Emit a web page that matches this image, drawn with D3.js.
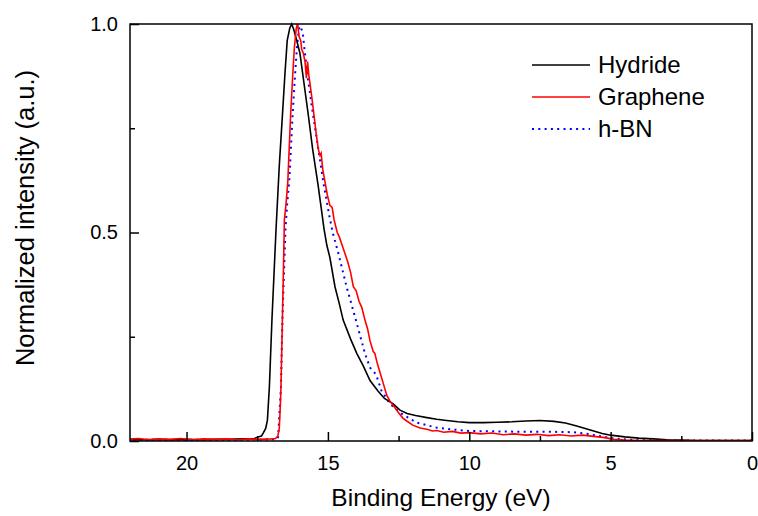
<!DOCTYPE html>
<html>
<head>
<meta charset="utf-8">
<script src="https://cdn.jsdelivr.net/npm/d3@7"></script>
<style>
  body { margin: 0; background: #fff; }
  text { font-family: "Liberation Sans", Arial, sans-serif; fill: #000; }
</style>
</head>
<body>
<script>
const width = 758;
const height = 516;
const margin = { top: 24, right: 6, bottom: 75, left: 130 };

// Data (binding energy in eV, normalized intensity)
const hydrideE = [22.1, 21.5, 21.0, 20.5, 20.0, 19.5, 19.0, 18.5, 18.0, 17.6, 17.45, 17.35, 17.28, 17.2, 17.14,
  17.07, 16.98, 16.84, 16.72, 16.61, 16.52, 16.44, 16.35, 16.28, 16.2, 16.1, 15.99, 15.85, 15.69, 15.54,
  15.44, 15.34, 15.24, 15.14, 15.04, 14.93, 14.75, 14.6, 14.46, 14.2, 13.98, 13.75, 13.51, 13.23, 13.0,
  12.69, 12.45, 12.2, 11.9, 11.5, 11.15, 10.8, 10.4, 10.0, 9.5, 9.0, 8.5, 8.0, 7.5, 7.0, 6.6, 6.2, 5.9,
  5.6, 5.3, 5.0, 4.5, 4.0, 3.5, 3.0, 2.5, 2.0, 1.0, 0.0];
const hydrideI = [0.004, 0.003, 0.004, 0.003, 0.004, 0.003, 0.004, 0.004, 0.005, 0.006, 0.01, 0.012, 0.02, 0.03, 0.05,
  0.13, 0.29, 0.5, 0.66, 0.78, 0.88, 0.96, 0.99, 1.0, 0.985, 0.96, 0.93, 0.86, 0.78, 0.70,
  0.655, 0.61, 0.56, 0.51, 0.47, 0.44, 0.37, 0.33, 0.29, 0.245, 0.21, 0.18, 0.145, 0.12, 0.102,
  0.089, 0.074, 0.066, 0.061, 0.056, 0.052, 0.049, 0.046, 0.044, 0.044, 0.045, 0.046, 0.048, 0.049, 0.047, 0.043, 0.036, 0.03,
  0.024, 0.018, 0.014, 0.01, 0.007, 0.005, 0.003, 0.002, 0.001, 0.001, 0.001];

const grapheneE = [22.1, 21.7, 21.3, 21.0, 20.6, 20.2, 19.8, 19.4, 19.0, 18.6, 18.2, 17.8, 17.4, 17.0, 16.85,
  16.77, 16.72, 16.68, 16.66, 16.61, 16.57, 16.54, 16.48, 16.42, 16.32, 16.25, 16.19, 16.12, 16.07, 16.02,
  15.96, 15.93, 15.87, 15.81, 15.76, 15.72, 15.68, 15.64, 15.56, 15.49, 15.42, 15.34, 15.28, 15.24, 15.18,
  15.10, 15.02, 14.93, 14.85, 14.78, 14.67, 14.6, 14.5, 14.4, 14.3, 14.2, 14.1, 14.0, 13.9, 13.8,
  13.69, 13.6, 13.51, 13.4, 13.34, 13.25, 13.16, 13.05, 12.92, 12.8, 12.63, 12.5, 12.35, 12.21, 12.0,
  11.74, 11.5, 11.3, 11.15, 10.9, 10.6, 10.3, 10.0, 9.6, 9.2, 8.8, 8.4, 8.0, 7.6, 7.2,
  6.8, 6.4, 6.0, 5.6, 5.2, 4.9, 4.5, 4.0, 3.0, 2.0, 1.0, 0.0];
const grapheneI = [0.004, 0.006, 0.003, 0.005, 0.004, 0.006, 0.003, 0.005, 0.004, 0.005, 0.003, 0.005, 0.004, 0.005, 0.006,
  0.012, 0.03, 0.09, 0.13, 0.29, 0.42, 0.53, 0.57, 0.62, 0.78, 0.87, 0.94, 0.99, 1.0, 0.97,
  0.96, 0.94, 0.93, 0.91, 0.87, 0.91, 0.88, 0.86, 0.82, 0.78, 0.74, 0.70, 0.685, 0.69, 0.65,
  0.62, 0.59, 0.565, 0.56, 0.53, 0.50, 0.49, 0.47, 0.45, 0.43, 0.405, 0.37, 0.36, 0.335, 0.32,
  0.29, 0.27, 0.24, 0.215, 0.21, 0.185, 0.165, 0.14, 0.11, 0.095, 0.08, 0.068, 0.055, 0.048, 0.038,
  0.031, 0.028, 0.024, 0.025, 0.021, 0.023, 0.019, 0.02, 0.017, 0.019, 0.015, 0.017, 0.014, 0.016, 0.013,
  0.015, 0.012, 0.014, 0.011, 0.008, 0.004, 0.002, 0.001, 0.001, 0.001, 0.001, 0.001];

const hbnE = [22.1, 21.0, 20.0, 19.0, 18.0, 17.0, 16.8, 16.76, 16.73, 16.66, 16.61, 16.5, 16.44, 16.37, 16.31,
  16.25, 16.17, 16.1, 16.04, 16.0, 15.95, 15.89, 15.83, 15.69, 15.52, 15.34, 15.16, 14.95, 14.83, 14.63,
  14.34, 14.01, 13.69, 13.51, 13.3, 13.1, 12.8, 12.45, 11.86, 11.15, 10.5, 9.98, 9.0, 8.0, 7.0,
  6.3, 5.8, 5.4, 5.0, 4.5, 4.0, 3.0, 0.0];
const hbnI = [0.003, 0.003, 0.003, 0.003, 0.003, 0.004, 0.004, 0.01, 0.048, 0.13, 0.29, 0.51, 0.57, 0.62, 0.70,
  0.78, 0.87, 0.94, 0.98, 0.995, 0.99, 0.98, 0.94, 0.86, 0.78, 0.70, 0.62, 0.54, 0.50, 0.45,
  0.37, 0.29, 0.21, 0.176, 0.16, 0.12, 0.089, 0.068, 0.044, 0.032, 0.027, 0.024, 0.023, 0.022, 0.022,
  0.021, 0.017, 0.012, 0.007, 0.004, 0.002, 0.001, 0.001];

const seriesNames = ["Hydride", "Graphene", "h-BN"];
const seriesColors = ["#000000", "#ff0000", "#0000ff"];
const xTicks = [20, 15, 10, 5, 0];
const xMinorTicks = [17.5, 12.5, 7.5, 2.5];
const yTicks = [0, 0.5, 1.0];
const yMinorTicks = [0.25, 0.75];

const series = [
  { name: seriesNames[0], color: seriesColors[0], dash: null, values: hydrideE.map((e, i) => [e, hydrideI[i]]) },
  { name: seriesNames[1], color: seriesColors[1], dash: null, values: grapheneE.map((e, i) => [e, grapheneI[i]]) },
  { name: seriesNames[2], color: seriesColors[2], dash: "2,4.3", values: hbnE.map((e, i) => [e, hbnI[i]]) }
];

const svg = d3.select("body")
  .append("svg")
  .attr("width", width)
  .attr("height", height);

const x = d3.scaleLinear().domain([22, 0]).range([margin.left, width - margin.right]);
const y = d3.scaleLinear().domain([0, 1]).range([height - margin.bottom, margin.top]);

// curves
const line = d3.line().x(d => x(d[0])).y(d => y(d[1]));
svg.append("defs").append("clipPath").attr("id", "clip")
  .append("rect")
  .attr("x", margin.left).attr("y", margin.top - 2)
  .attr("width", width - margin.left - margin.right)
  .attr("height", height - margin.top - margin.bottom + 2);

const plot = svg.append("g").attr("clip-path", "url(#clip)");
// draw h-BN first, then hydride, graphene on top
[series[2], series[0], series[1]].forEach(s => {
  plot.append("path")
    .datum(s.values)
    .attr("fill", "none")
    .attr("stroke", s.color)
    .attr("stroke-width", s.dash ? 2 : 1.6)
    .attr("stroke-dasharray", s.dash)
    .attr("d", line);
});

// axes: ticks inside
const xAxis = svg.append("g")
  .attr("transform", `translate(0,${height - margin.bottom})`)
  .call(d3.axisBottom(x).tickValues(xTicks).tickSize(-9).tickPadding(22).tickFormat(d3.format("d")));
svg.append("g")
  .attr("transform", `translate(0,${height - margin.bottom})`)
  .call(d3.axisBottom(x).tickValues(xMinorTicks).tickSize(-5).tickFormat(""));

const yAxis = svg.append("g")
  .attr("transform", `translate(${margin.left},0)`)
  .call(d3.axisLeft(y).tickValues(yTicks).tickSize(-9).tickPadding(12).tickFormat(d3.format(".1f")));
svg.append("g")
  .attr("transform", `translate(${margin.left},0)`)
  .call(d3.axisLeft(y).tickValues(yMinorTicks).tickSize(-5).tickFormat(""));

svg.selectAll(".domain").remove();
svg.selectAll(".tick line").attr("stroke", "#000").attr("stroke-width", 1.5);
xAxis.selectAll("text").style("font-size", "20px").attr("dy", "0.35em");
yAxis.selectAll("text").style("font-size", "20px");

// frame
svg.append("rect")
  .attr("x", margin.left).attr("y", margin.top)
  .attr("width", width - margin.left - margin.right)
  .attr("height", height - margin.top - margin.bottom)
  .attr("fill", "none")
  .attr("stroke", "#000")
  .attr("stroke-width", 1.5);

// axis titles
svg.append("text")
  .attr("x", (margin.left + width - margin.right) / 2)
  .attr("y", 506)
  .attr("text-anchor", "middle")
  .style("font-size", "24.5px")
  .text("Binding Energy (eV)");

svg.append("text")
  .attr("transform", "translate(34,218) rotate(-90)")
  .attr("text-anchor", "middle")
  .style("font-size", "25.5px")
  .text("Normalized intensity (a.u.)");

// legend
const legend = svg.append("g").attr("transform", "translate(532,65)");
series.forEach((s, i) => {
  const g = legend.append("g").attr("transform", `translate(0,${i * 32})`);
  g.append("line")
    .attr("x1", 0).attr("x2", 58)
    .attr("stroke", s.color)
    .attr("stroke-width", s.dash ? 2 : 1.6)
    .attr("stroke-dasharray", s.dash);
  g.append("text")
    .attr("x", 66).attr("y", 8)
    .style("font-size", "24px")
    .text(s.name);
});
</script>
</body>
</html>
